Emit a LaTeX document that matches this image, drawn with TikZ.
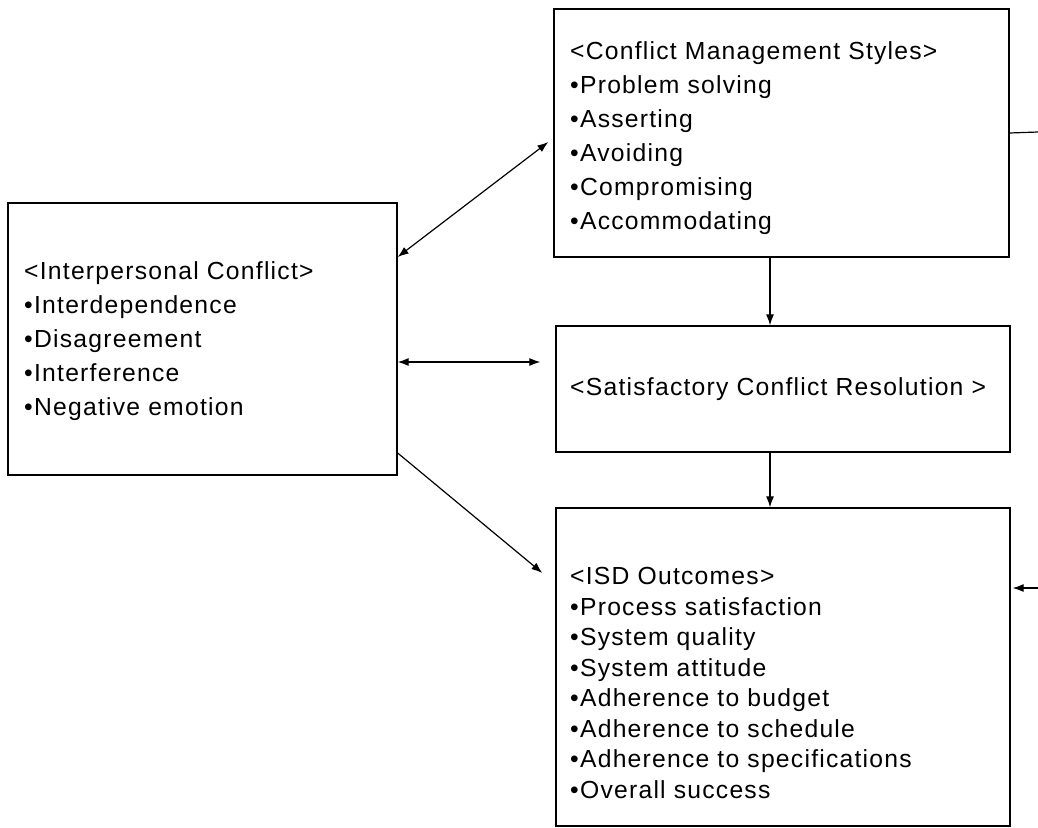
\documentclass[tikz,border=0pt]{standalone}
\usepackage{fontspec}
\setmainfont{Liberation Sans}[LetterSpace=5]
\usetikzlibrary{arrows.meta}
\begin{document}
\begin{tikzpicture}[x=1pt,y=-1pt,
  box/.style={draw, line width=1.3pt, rectangle, inner sep=0pt},
  txt/.style={anchor=west, align=left, inner sep=0pt, font=\fontsize{24.7}{34}\selectfont},
  conn/.style={line width=1.2pt},
  tip/.style={-{Latex[length=11pt,width=8pt]}},
  dtip/.style={{Latex[length=11pt,width=8pt]}-{Latex[length=11pt,width=8pt]}}]
\useasboundingbox (0,0) rectangle (1038,827);
% boxes
\node[box, minimum width=389pt, minimum height=272pt] (ic) at (202.5,339) {};
\node[box, minimum width=455pt, minimum height=248pt] (cms) at (781.5,133) {};
\node[box, minimum width=454pt, minimum height=126pt] (scr) at (783,389) {};
\node[box, minimum width=454pt, minimum height=318pt] (isd) at (783,667) {};
% texts
\node[txt] (ict) at (24,341) {<Interpersonal Conflict>\\ \textbullet Interdependence\\ \textbullet Disagreement\\ \textbullet Interference\\ \textbullet Negative emotion};
\node[txt] (cmst) at (570,138) {<Conflict Management Styles>\\ \textbullet Problem solving\\ \textbullet Asserting\\ \textbullet Avoiding\\ \textbullet Compromising\\ \textbullet Accommodating};
\node[txt] (scrt) at (570,389) {<Satisfactory Conflict Resolution >};
\node[txt, font=\fontsize{24.7}{30.5}\selectfont] (isdt) at (570,683) {<ISD Outcomes>\\ \textbullet Process satisfaction\\ \textbullet System quality\\ \textbullet System attitude\\ \textbullet Adherence to budget\\ \textbullet Adherence to schedule\\ \textbullet Adherence to specifications\\ \textbullet Overall success};
% connectors
\draw[conn, dtip] ([yshift=82pt]ic.east) -- ([xshift=-5pt,yshift=-9pt]cms.west);
\draw[conn, dtip] ([yshift=-23pt]ic.east) -- ([xshift=-15pt,yshift=27pt]scr.west);
\draw[conn, tip] ([yshift=-114pt]ic.east) -- ([xshift=-13pt,yshift=94pt]isd.west);
\draw[conn, tip] ([xshift=-11.5pt]cms.south) -- ([xshift=-13pt]scr.north);
\draw[conn, tip] ([xshift=-13pt]scr.south) -- ([xshift=-13pt]isd.north);
\coordinate (r1) at (1038,132);
\coordinate (r2) at (1038,588);
\draw[conn] (cms.east) -- (r1);
\draw[conn, tip] (r2) -- ([xshift=2pt,yshift=79pt]isd.east);
\end{tikzpicture}
\end{document}
